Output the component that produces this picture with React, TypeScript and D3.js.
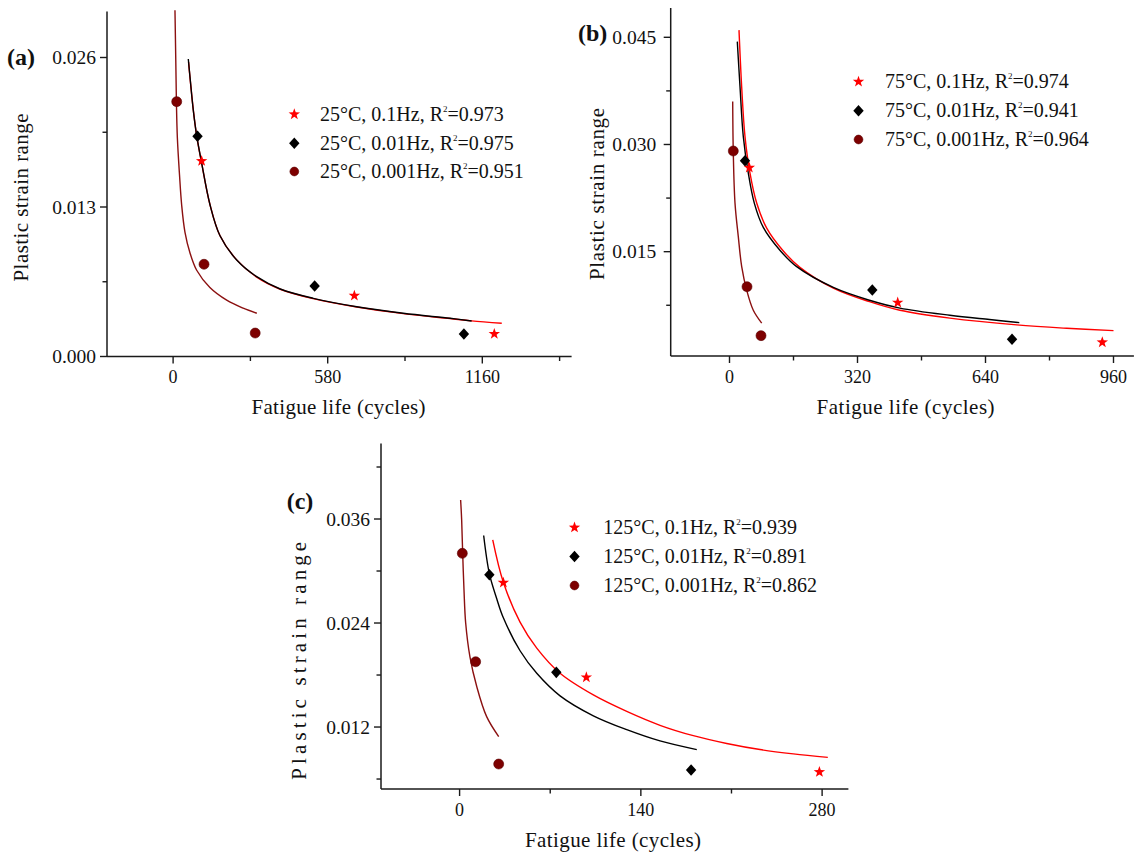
import React from 'react';
import * as d3 from 'd3';

type P = [number, number];

// ---------- Panel (a) 25°C ----------
const A_STAR: P[] = [[107, 0.0170], [680, 0.00529], [1205, 0.00196]];
const A_DIAMOND: P[] = [[91.6, 0.01915], [531, 0.00613], [1091, 0.00196]];
const A_CIRCLE: P[] = [[13.5, 0.02216], [116, 0.00802], [308, 0.00204]];
const A_FIT_RED: P[] = [[58, 0.0256], [64, 0.0241], [76.5, 0.0213], [89, 0.0191], [107.3, 0.0168], [138.4, 0.0132], [176, 0.0105], [238.6, 0.0084], [313.6, 0.0069], [401.9, 0.00585], [526, 0.00503], [688.8, 0.0043], [863.6, 0.00373], [1038.8, 0.0033], [1120, 0.0031], [1233, 0.00289]];
const A_FIT_BLACK: P[] = [[57, 0.02587], [63.4, 0.0243], [75.8, 0.0214], [88.5, 0.0192], [107.3, 0.0168], [138.4, 0.0132], [176, 0.0105], [238.6, 0.00839], [313.6, 0.00694], [401.9, 0.00587], [526, 0.00506], [688.8, 0.00433], [863.6, 0.00376], [1038.8, 0.00332], [1120, 0.00309]];
const A_FIT_DARK: P[] = [[7, 0.0301], [10, 0.0258], [12.4, 0.0221], [16, 0.0190], [24, 0.0158], [32, 0.0132], [44.6, 0.0108], [63.4, 0.0090], [88.5, 0.0075], [138, 0.0060], [201, 0.0049], [263, 0.0042], [314, 0.00376]];
const A_LEGEND = ['25°C, 0.1Hz, R²=0.973', '25°C, 0.01Hz, R²=0.975', '25°C, 0.001Hz, R²=0.951'];
const A_XTICKS = [0, 580, 1160];
const A_XMINOR = [290, 870, 1450];
const A_YTICKS = [0, 0.013, 0.026];
const A_YMINOR = [0.0065, 0.0195];

// ---------- Panel (b) 75°C ----------
const B_STAR: P[] = [[49.5, 0.02675], [420.5, 0.00787], [932, 0.00232]];
const B_DIAMOND: P[] = [[38.75, 0.02773], [357, 0.00964], [706.3, 0.00274]];
const B_CIRCLE: P[] = [[9.5, 0.02909], [43.75, 0.0101], [78.75, 0.00325]];
const B_FIT_RED: P[] = [[23.75, 0.0460], [30.4, 0.0381], [38.75, 0.0311], [51.25, 0.0260], [68, 0.0218], [93, 0.0183], [134.5, 0.0151], [176, 0.0128], [259.5, 0.0099], [350, 0.0080], [426, 0.0068], [551, 0.0057], [718, 0.00475], [843, 0.00428], [960, 0.00395]];
const B_FIT_BLACK: P[] = [[19.5, 0.0444], [26.25, 0.0381], [34.5, 0.0311], [47, 0.0260], [62, 0.0218], [84.5, 0.0184], [126, 0.0152], [168, 0.0129], [259.5, 0.0100], [350, 0.0082], [426, 0.0071], [551, 0.0061], [650, 0.0055], [724.5, 0.00507]];
const B_FIT_DARK: P[] = [[8, 0.0360], [9.5, 0.0288], [13.75, 0.0218], [22, 0.0171], [30.5, 0.0129], [43, 0.0096], [59.5, 0.0068], [80.5, 0.0050]];
const B_LEGEND = ['75°C, 0.1Hz, R²=0.974', '75°C, 0.01Hz, R²=0.941', '75°C, 0.001Hz, R²=0.964'];
const B_XTICKS = [0, 320, 640, 960];
const B_XMINOR = [160, 480, 800];
const B_YTICKS = [0.015, 0.030, 0.045];
const B_YMINOR = [0.0075, 0.0225, 0.0375];

// ---------- Panel (c) 125°C ----------
const C_STAR: P[] = [[33.8, 0.02865], [97.9, 0.01773], [277.9, 0.00681]];
const C_DIAMOND: P[] = [[23, 0.02957], [74.7, 0.01831], [178.8, 0.00704]];
const C_CIRCLE: P[] = [[2.1, 0.03204], [12.4, 0.01953], [30.2, 0.00773]];
const C_FIT_RED: P[] = [[25.6, 0.0336], [33.8, 0.0287], [46.7, 0.0241], [59.6, 0.0211], [77.6, 0.0182], [103.3, 0.0157], [129.1, 0.0138], [154.8, 0.0122], [180.5, 0.0110], [206.3, 0.0101], [232, 0.0094], [257.8, 0.0089], [284.4, 0.0085]];
const C_FIT_BLACK: P[] = [[18.6, 0.0341], [23, 0.0297], [28.7, 0.0268], [33.8, 0.0246], [46.7, 0.0208], [59.6, 0.0182], [77.6, 0.0156], [103.3, 0.0133], [129.1, 0.0117], [154.8, 0.0104], [183.2, 0.0094]];
const C_FIT_DARK: P[] = [[0.8, 0.0382], [1.6, 0.0359], [2.4, 0.0320], [3.4, 0.0278], [4.7, 0.0240], [8, 0.0201], [13.2, 0.0167], [20.9, 0.0132], [30.2, 0.0109]];
const C_LEGEND = ['125°C, 0.1Hz, R²=0.939', '125°C, 0.01Hz, R²=0.891', '125°C, 0.001Hz, R²=0.862'];
const C_XTICKS = [0, 140, 280];
const C_XMINOR = [70, 210];
const C_YTICKS = [0.012, 0.024, 0.036];
const C_YMINOR = [0.006, 0.018, 0.030, 0.042];

const X_TITLE = 'Fatigue life (cycles)';
const Y_TITLE = 'Plastic strain range';

const FONT = "'Liberation Serif', 'Times New Roman', serif";
const RED = '#ff0000';
const BLACK = '#000000';
const DARK = '#7d0000';
const DARK_LINE = '#8b1010';
const AXIS = '#1a1a1a';
const TEXT = '#111111';

const PANELS = [
  {
    label: '(a)', labelX: 7, labelY: 65,
    xDomain: [-248, 1495], xRange: [107, 571.6],
    yDomain: [0, 0.03], yRange: [356.5, 11.5],
    xTicks: A_XTICKS, xMinor: A_XMINOR, yTicks: A_YTICKS, yMinor: A_YMINOR,
    yLabelGap: 11,
    yTitle: { x: 27.5, y: 197.5, len: 168 },
    xTitle: { x: 338.5, y: 413.5, len: 174 },
    legend: { mx: 294.3, tx: 320, rows: [114.3, 143.3, 171.5], texts: A_LEGEND },
    star: A_STAR, diamond: A_DIAMOND, circle: A_CIRCLE,
    fitRed: A_FIT_RED, fitBlack: A_FIT_BLACK, fitDark: A_FIT_DARK,
  },
  {
    label: '(b)', labelX: 578, labelY: 41,
    xDomain: [-147, 1011], xRange: [670.7, 1133.9],
    yDomain: [0.0004, 0.0491], yRange: [356, 8],
    xTicks: B_XTICKS, xMinor: B_XMINOR, yTicks: B_YTICKS, yMinor: B_YMINOR,
    yLabelGap: 14.5,
    yTitle: { x: 604, y: 194, len: 172 },
    xTitle: { x: 905.6, y: 413.5, len: 178 },
    legend: { mx: 858.5, tx: 885, rows: [81.7, 110.7, 139.5], texts: B_LEGEND },
    star: B_STAR, diamond: B_DIAMOND, circle: B_CIRCLE,
    fitRed: B_FIT_RED, fitBlack: B_FIT_BLACK, fitDark: B_FIT_DARK,
  },
  {
    label: '(c)', labelX: 286.7, labelY: 509,
    xDomain: [-60.7, 300.3], xRange: [381, 848.4],
    yDomain: [0.00485, 0.0447], yRange: [789, 443.6],
    xTicks: C_XTICKS, xMinor: C_XMINOR, yTicks: C_YTICKS, yMinor: C_YMINOR,
    yLabelGap: 11,
    yTitle: { x: 306, y: 660.8, len: 238 },
    xTitle: { x: 613, y: 846.5, len: 176 },
    legend: { mx: 574.5, tx: 603.3, rows: [527.5, 556.5, 585.5], texts: C_LEGEND },
    star: C_STAR, diamond: C_DIAMOND, circle: C_CIRCLE,
    fitRed: C_FIT_RED, fitBlack: C_FIT_BLACK, fitDark: C_FIT_DARK,
  },
];

function starPath(R: number): string {
  const r = R * 0.4;
  let d = '';
  for (let i = 0; i < 10; i++) {
    const rad = i % 2 ? r : R;
    const a = -Math.PI / 2 + (i * Math.PI) / 5;
    d += (i ? 'L' : 'M') + (rad * Math.cos(a)).toFixed(2) + ',' + (rad * Math.sin(a)).toFixed(2);
  }
  return d + 'Z';
}

function diamondPath(w: number, h: number): string {
  return `M0,${-h}L${w},0L0,${h}L${-w},0Z`;
}

function Marker({ kind, x, y, legend }: { kind: string; x: number; y: number; legend?: boolean }) {
  if (kind === 'star') {
    return <path d={starPath(6)} transform={`translate(${x},${y})`} fill={RED} />;
  }
  if (kind === 'diamond') {
    return <path d={diamondPath(5.2, 5.8)} transform={`translate(${x},${y})`} fill={BLACK} />;
  }
  return <circle cx={x} cy={y} r={legend ? 4.4 : 5} fill={DARK} stroke="#5a0000" strokeWidth={0.6} />;
}

function LegendText({ x, y, text }: { x: number; y: number; text: string }) {
  const [pre, post] = text.split('²');
  return (
    <text x={x} y={y} fontFamily={FONT} fontSize={20} fill={TEXT}>
      {pre}
      <tspan dy={-9} fontSize={9}>2</tspan>
      <tspan dy={9} fontSize={20}>{post}</tspan>
    </text>
  );
}

function Panel({ cfg }: { cfg: (typeof PANELS)[number] }) {
  const x = d3.scaleLinear().domain(cfg.xDomain).range(cfg.xRange);
  const y = d3.scaleLinear().domain(cfg.yDomain).range(cfg.yRange);
  const line = d3
    .line<P>()
    .x((d) => x(d[0]))
    .y((d) => y(d[1]))
    .curve(d3.curveCatmullRom.alpha(0.5));
  const x0 = cfg.xRange[0];
  const x1 = cfg.xRange[1];
  const yb = cfg.yRange[0];
  const yt = cfg.yRange[1];
  const fmtY = d3.format('.3f');
  const kinds = ['star', 'diamond', 'circle'];
  return (
    <g>
      <line x1={x0} x2={x0} y1={yt} y2={yb} stroke={AXIS} strokeWidth={1.5} />
      <line x1={x0} x2={x1} y1={yb} y2={yb} stroke={AXIS} strokeWidth={1.5} />
      {cfg.xTicks.map((t) => (
        <g key={'xt' + t}>
          <line x1={x(t)} x2={x(t)} y1={yb} y2={yb + 7} stroke={AXIS} strokeWidth={1.4} />
          <text x={x(t)} y={yb + 26.5} textAnchor="middle" fontFamily={FONT} fontSize={18} fill={TEXT}>
            {t}
          </text>
        </g>
      ))}
      {cfg.xMinor.map((t) => (
        <line key={'xm' + t} x1={x(t)} x2={x(t)} y1={yb} y2={yb + 4.5} stroke={AXIS} strokeWidth={1.4} />
      ))}
      {cfg.yTicks.map((t) => (
        <g key={'yt' + t}>
          <line x1={x0 - 7} x2={x0} y1={y(t)} y2={y(t)} stroke={AXIS} strokeWidth={1.4} />
          <text x={x0 - cfg.yLabelGap} y={y(t) + 6.6} textAnchor="end" fontFamily={FONT} fontSize={19.5} fill={TEXT}>
            {fmtY(t)}
          </text>
        </g>
      ))}
      {cfg.yMinor.map((t) => (
        <line key={'ym' + t} x1={x0 - 4.5} x2={x0} y1={y(t)} y2={y(t)} stroke={AXIS} strokeWidth={1.4} />
      ))}
      <text
        transform={`translate(${cfg.yTitle.x},${cfg.yTitle.y}) rotate(-90)`}
        textAnchor="middle"
        fontFamily={FONT}
        fontSize={21}
        fill={TEXT}
        textLength={cfg.yTitle.len}
        lengthAdjust="spacing"
      >
        {Y_TITLE}
      </text>
      <text
        x={cfg.xTitle.x - cfg.xTitle.len / 2}
        y={cfg.xTitle.y}
        fontFamily={FONT}
        fontSize={21}
        fill={TEXT}
        textLength={cfg.xTitle.len}
        lengthAdjust="spacing"
      >
        {X_TITLE}
      </text>
      <text x={cfg.labelX} y={cfg.labelY} fontFamily={FONT} fontSize={24} fontWeight="bold" fill={TEXT}>
        {cfg.label}
      </text>
      <path d={line(cfg.fitRed) || ''} fill="none" stroke={RED} strokeWidth={1.4} />
      <path d={line(cfg.fitBlack) || ''} fill="none" stroke={BLACK} strokeWidth={1.4} />
      <path d={line(cfg.fitDark) || ''} fill="none" stroke={DARK_LINE} strokeWidth={1.4} />
      {cfg.star.map((d, i) => (
        <Marker key={'s' + i} kind="star" x={x(d[0])} y={y(d[1])} />
      ))}
      {cfg.diamond.map((d, i) => (
        <Marker key={'d' + i} kind="diamond" x={x(d[0])} y={y(d[1])} />
      ))}
      {cfg.circle.map((d, i) => (
        <Marker key={'c' + i} kind="circle" x={x(d[0])} y={y(d[1])} />
      ))}
      {cfg.legend.texts.map((t, i) => (
        <g key={'lg' + i}>
          <Marker kind={kinds[i]} x={cfg.legend.mx} y={cfg.legend.rows[i]} legend />
          <LegendText x={cfg.legend.tx} y={cfg.legend.rows[i] + 6.6} text={t} />
        </g>
      ))}
    </g>
  );
}

export default function App() {
  return (
    <svg
      width={1135}
      height={855}
      viewBox="0 0 1135 855"
      style={{ position: 'absolute', left: 0, top: 0, background: '#ffffff' }}
    >
      <rect x={0} y={0} width={1135} height={855} fill="#ffffff" />
      {PANELS.map((p) => (
        <Panel key={p.label} cfg={p} />
      ))}
    </svg>
  );
}
